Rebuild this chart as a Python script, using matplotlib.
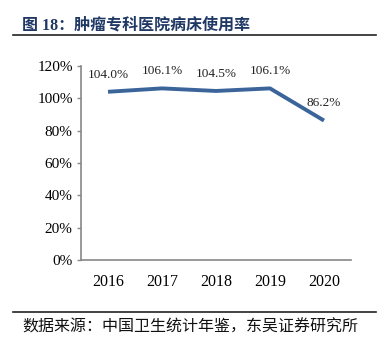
import matplotlib.pyplot as plt
from matplotlib.lines import Line2D

years = ['2016', '2017', '2018', '2019', '2020']
rates = [104.0, 106.1, 104.5, 106.1, 86.2]
yticks = [0, 20, 40, 60, 80, 100, 120]

serif = ['Liberation Serif', 'Noto Sans CJK SC']
cjk = ['Liberation Serif', 'Noto Sans CJK SC']

fig = plt.figure(figsize=(3.84, 3.38), dpi=100)
ax = fig.add_axes([0.211, 0.231, 0.703, 0.574])

x = range(len(years))
ax.plot(x, rates, color='#3B659A', linewidth=2.8, solid_capstyle='butt')
for i, v in enumerate(rates):
    ax.annotate(f'{v:.1f}%', (i, v), xytext=(0, 8), textcoords='offset points',
                ha='center', va='bottom', fontsize=9.5, family=serif, color='#222222')

ax.set_xlim(-0.5, len(years) - 0.5)
ax.set_ylim(0, 120)
ax.set_xticks(list(x))
ax.set_xticklabels(years, fontsize=11.5, family=serif)
ax.set_yticks(yticks)
ax.set_yticklabels([f'{t}%' for t in yticks], fontsize=11, family=serif)
ax.tick_params(axis='x', length=0, pad=10)
ax.tick_params(axis='y', length=3, width=1, color='#888888', pad=3)
for s in ['top', 'right']:
    ax.spines[s].set_visible(False)
for s in ['left', 'bottom']:
    ax.spines[s].set_color('#888888')
    ax.spines[s].set_linewidth(1.2)

fig.text(0.057, 0.925, '图 18：肿瘤专科医院病床使用率', fontsize=11.5, fontweight='bold',
         color='#1F3864', family=cjk, ha='left', va='center')
fig.add_artist(Line2D([0.034, 0.979], [0.897, 0.897], color='#222222', linewidth=1.2))
fig.add_artist(Line2D([0.034, 0.979], [0.077, 0.077], color='#222222', linewidth=1.2))
fig.text(0.057, 0.032, '数据来源：中国卫生统计年鉴，东吴证券研究所', fontsize=11.5,
         color='#111111', family=cjk, ha='left', va='center')

fig.savefig('out.png', dpi=100)
